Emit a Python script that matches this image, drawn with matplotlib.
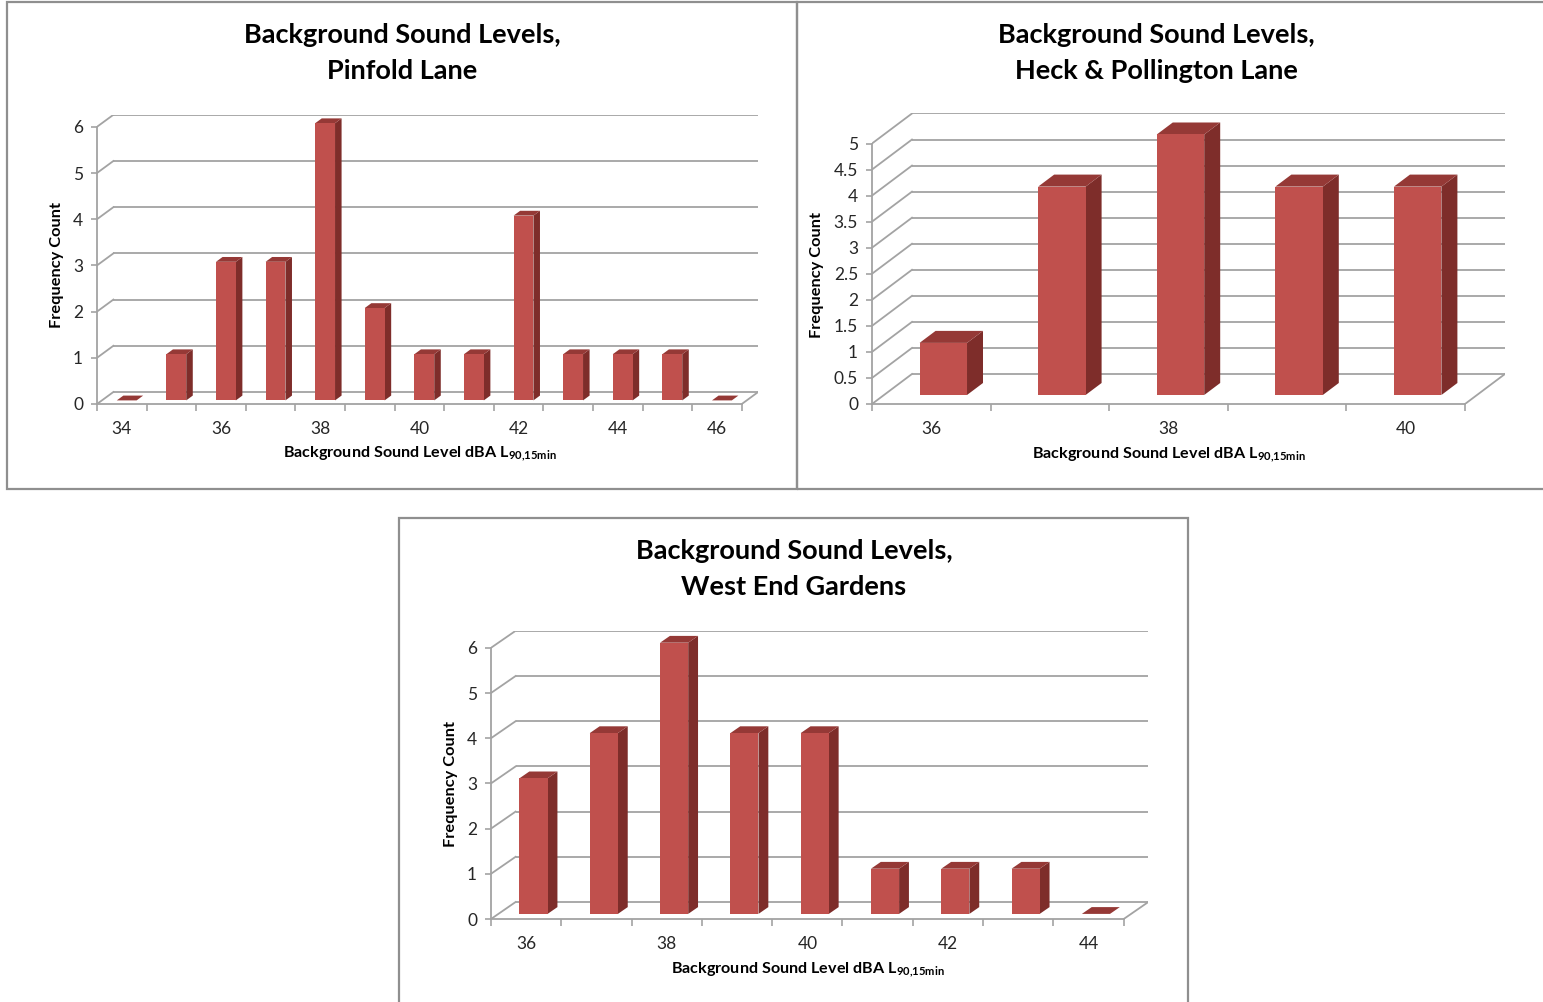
import matplotlib
matplotlib.use("Agg")
import matplotlib.pyplot as plt
from matplotlib.patches import Polygon, Rectangle

plt.rcParams['font.family'] = ['Lato', 'DejaVu Sans']
plt.rcParams['mathtext.fontset'] = 'custom'
plt.rcParams['mathtext.rm'] = 'Lato:bold'
plt.rcParams['mathtext.it'] = 'Lato:bold'
plt.rcParams['mathtext.bf'] = 'Lato:bold'

W, H = 1543, 1002

# ---- data -------------------------------------------------------------
pinfold_levels = [34, 35, 36, 37, 38, 39, 40, 41, 42, 43, 44, 45, 46]
pinfold_counts = [0, 1, 3, 3, 6, 2, 1, 1, 4, 1, 1, 1, 0]
pinfold_yticks = [0, 1, 2, 3, 4, 5, 6]

heck_levels = [36, 37, 38, 39, 40]
heck_counts = [1, 4, 5, 4, 4]
heck_yticks = [0, 0.5, 1, 1.5, 2, 2.5, 3, 3.5, 4, 4.5, 5]

west_levels = [36, 37, 38, 39, 40, 41, 42, 43, 44]
west_counts = [3, 4, 6, 4, 4, 1, 1, 1, 0]
west_yticks = [0, 1, 2, 3, 4, 5, 6]

titles = [
    ("Background Sound Levels,", "Pinfold Lane"),
    ("Background Sound Levels,", "Heck & Pollington Lane"),
    ("Background Sound Levels,", "West End Gardens"),
]
xlabel = "Background Sound Level dBA L$_{90{,}15min}$"
ylabel = "Frequency Count"

# ---- styling ----------------------------------------------------------
FRONT = '#C0504D'
TOP = '#953936'
SIDE = '#7E2D2A'
GRID = '#a3a3a3'
FRAME = '#8f8f8f'
TXT = '#262626'
BAR_W = 0.4          # fraction of category width
Z0, Z1 = 0.3, 0.7    # bar position inside the depth of the floor

fig = plt.figure(figsize=(W / 100, H / 100), dpi=100)


def px_box(left, top, right, bottom):
    return (left / W, 1 - bottom / H, (right - left) / W, (bottom - top) / H)


def draw_panel(levels, counts, yticks, title, frame, origin, scale, depth,
               title_xy, xlabel_xy, ylabel_xy):
    # panel frame
    fig.add_artist(Rectangle(px_box(*frame)[:2], *px_box(*frame)[2:],
                             transform=fig.transFigure, fill=False,
                             ec=FRAME, lw=1.6))
    n = len(levels)
    ymax = yticks[-1]
    dx, dy = depth
    x0, y0 = origin
    pxc, pxu = scale
    left, bottom = x0, y0
    right = x0 + (n + dx) * pxc
    top = y0 - (ymax + dy) * pxu
    ax = fig.add_axes(px_box(left, top, right, bottom))
    ax.set_xlim(0, n + dx)
    ax.set_ylim(0, ymax + dy)
    ax.patch.set_visible(False)

    # back wall gridlines and side-wall diagonals
    for t in yticks:
        ax.plot([dx, n + dx], [t + dy, t + dy], color=GRID, lw=1.3,
                zorder=1, solid_capstyle='butt')
        ax.plot([0, dx], [t, t + dy], color=GRID, lw=1.3, zorder=1)
    # right edge of the floor
    ax.plot([n, n + dx], [0, dy], color=GRID, lw=1.3, zorder=1)

    # 3-D columns
    for i, v in enumerate(counts):
        xl = i + 0.5 - BAR_W / 2
        xr = i + 0.5 + BAR_W / 2
        fx0, fy0 = Z0 * dx, Z0 * dy
        fx1, fy1 = Z1 * dx, Z1 * dy
        side = [(xr + fx0, fy0), (xr + fx1, fy1),
                (xr + fx1, v + fy1), (xr + fx0, v + fy0)]
        topf = [(xl + fx0, v + fy0), (xr + fx0, v + fy0),
                (xr + fx1, v + fy1), (xl + fx1, v + fy1)]
        ax.add_patch(Polygon(side, closed=True, fc=SIDE, ec='none', zorder=3))
        ax.add_patch(Polygon(topf, closed=True, fc=TOP, ec='none', zorder=3))
        ax.add_patch(Rectangle((xl + fx0, fy0), xr - xl, v, fc=FRONT,
                               ec='none', zorder=4))

    # axes lines and ticks
    for s in ('top', 'right'):
        ax.spines[s].set_visible(False)
    for s in ('left', 'bottom'):
        ax.spines[s].set_color(GRID)
        ax.spines[s].set_linewidth(1.3)
    ax.spines['left'].set_bounds(0, ymax)
    ax.spines['bottom'].set_bounds(0, n)
    ax.set_yticks(yticks)
    ax.set_yticklabels(['{:g}'.format(t) for t in yticks])
    ax.tick_params(axis='y', direction='out', length=4, width=1.2,
                   color=GRID, labelsize=12.5, labelcolor=TXT, pad=6)
    ax.set_xticks([i + 0.5 for i in range(0, n, 2)])
    ax.set_xticklabels([str(levels[i]) for i in range(0, n, 2)])
    ax.set_xticks(list(range(n + 1)), minor=True)
    ax.tick_params(axis='x', which='major', length=0, labelsize=12.5,
                   labelcolor=TXT, pad=12)
    ax.tick_params(axis='x', which='minor', direction='out', length=5,
                   width=1.2, color=GRID)

    # texts
    tx, ty = title_xy
    fig.text(tx / W, 1 - ty / H, title[0], ha='center', va='center',
             fontsize=19.5, fontweight='bold', color='black')
    fig.text(tx / W, 1 - (ty + 36) / H, title[1], ha='center', va='center',
             fontsize=19.5, fontweight='bold', color='black')
    fig.text(xlabel_xy[0] / W, 1 - xlabel_xy[1] / H, xlabel, ha='center',
             va='center', fontsize=11.6, fontweight='bold', color='black')
    fig.text(ylabel_xy[0] / W, 1 - ylabel_xy[1] / H, ylabel, ha='center',
             va='center', rotation=90, fontsize=11.8, fontweight='bold',
             color='black')


draw_panel(pinfold_levels, pinfold_counts, pinfold_yticks, titles[0],
           frame=(7, 2, 797, 489), origin=(97, 404), scale=(49.6, 46.2),
           depth=(0.33, 0.26), title_xy=(402, 35), xlabel_xy=(420, 454),
           ylabel_xy=(57, 265))
draw_panel(heck_levels, heck_counts, heck_yticks, titles[1],
           frame=(797, 2, 1552, 489), origin=(872, 404), scale=(118.6, 52.1),
           depth=(0.337, 0.576), title_xy=(1156, 35), xlabel_xy=(1169, 455),
           ylabel_xy=(817, 275))
draw_panel(west_levels, west_counts, west_yticks, titles[2],
           frame=(399, 518, 1188, 1010), origin=(491, 919), scale=(70.3, 45.2),
           depth=(0.35, 0.376), title_xy=(794, 551), xlabel_xy=(808, 970),
           ylabel_xy=(451, 784))

fig.savefig('out.png', dpi=100, facecolor='white')
